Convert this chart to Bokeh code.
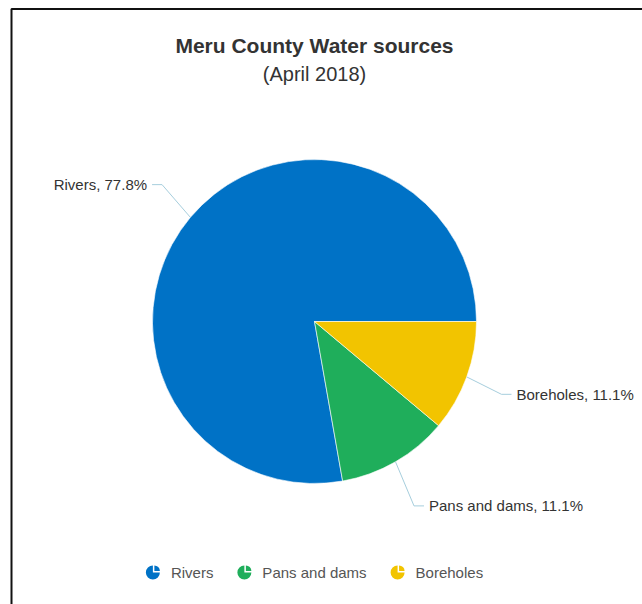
import math
from bokeh.plotting import figure
from bokeh.models import Range1d, BoxAnnotation, ColumnDataSource
from bokeh.core.properties import value
from bokeh.embed import file_html
from bokeh.resources import INLINE

# ---- data ----
title = "Meru County Water sources"
subtitle = "(April 2018)"
categories = ["Rivers", "Pans and dams", "Boreholes"]
counts = [7, 1, 1]
colors = ["#0072c6", "#1fae5b", "#f2c400"]

W, H = 642, 604
FONT = "Liberation Sans"

p = figure(width=W, height=H, output_backend="svg", toolbar_location=None,
           x_range=Range1d(0, W), y_range=Range1d(0, H), min_border=0,
           outline_line_color=None)
p.axis.visible = False
p.grid.visible = False
p.background_fill_color = "white"
p.border_fill_color = "white"

def sy(y):
    return H - y

# frame
p.add_layout(BoxAnnotation(left=11, top=sy(8.5), right=W + 50, bottom=-50,
                           fill_alpha=0, line_color="#111111", line_alpha=1.0,
                           line_width=2))

# titles
p.text(x=[W / 2 - 7], y=[sy(45)], text=[title], text_font=value(FONT),
       text_font_size="21px", text_font_style="bold", text_color="#333333",
       text_align="center", text_baseline="middle")
p.text(x=[W / 2 - 7], y=[sy(73)], text=[subtitle], text_font=value(FONT),
       text_font_size="20px", text_color="#333333",
       text_align="center", text_baseline="middle")

# pie
cx, cy, r = 314, sy(321), 162
total = sum(counts)
starts, ends, mids, pcts = [], [], [], []
a = 0.0
for c in counts:
    s = a
    e = a + 2 * math.pi * c / total
    starts.append(s); ends.append(e); mids.append((s + e) / 2)
    pcts.append(100.0 * c / total)
    a = e

src = ColumnDataSource(dict(start=starts, end=ends, color=colors))
p.wedge(x=cx, y=cy, radius=r, start_angle="start", end_angle="end",
        fill_color="color", line_color="white", line_width=0.6, source=src)

# connectors and data labels
xs, ys = [], []
lx, ly, lt, la = [], [], [], []
for cat, m, pc in zip(categories, mids, pcts):
    ex, ey = cx + r * math.cos(m), cy + r * math.sin(m)
    r2 = r + 37
    bx, by = cx + r2 * math.cos(m), cy + r2 * math.sin(m) * 1.07
    side = 1 if math.cos(m) >= 0 else -1
    hx = bx + side * 10
    xs.append([ex, bx, hx]); ys.append([ey, by, by])
    lx.append(hx + side * 5); ly.append(by)
    lt.append(f"{cat}, {pc:.1f}%")
    la.append("left" if side > 0 else "right")

p.multi_line(xs=xs, ys=ys, line_color="#a6cedd", line_width=1)
p.text(x=lx, y=ly, text=lt, text_align=la, text_baseline="middle",
       text_font=value(FONT), text_font_size="15px", text_color="#333333")

# legend (manual, pie icons)
AW = {'a':556,'b':556,'c':500,'d':556,'e':556,'f':278,'g':556,'h':556,'i':222,
      'j':222,'k':500,'l':222,'m':833,'n':556,'o':556,'p':556,'q':556,'r':333,
      's':500,'t':278,'u':556,'v':500,'w':722,'x':500,'y':500,'z':500,' ':278,
      'R':722,'P':667,'B':667}
fs = 15
def tw(s):
    return sum(AW.get(ch, 556) for ch in s) * fs / 1000.0

icon_to_text, item_gap, icon_half = 18, 31, 7
widths = [tw(c) for c in categories]
total_w = icon_half + sum(icon_to_text + w for w in widths) + item_gap * (len(widths) - 1)
x0 = W / 2 - 7 - total_w / 2 + icon_half
leg_y = sy(572)
ix, tx = [], []
x = x0
for w in widths:
    ix.append(x); tx.append(x + icon_to_text)
    x += icon_to_text + w + item_gap

p.wedge(x=ix, y=[leg_y] * 3, radius=7, start_angle=math.pi / 2, end_angle=2 * math.pi,
        fill_color=colors, line_color=None)
p.wedge(x=[v + 1.5 for v in ix], y=[leg_y + 1.5] * 3, radius=5.5, start_angle=0,
        end_angle=math.pi / 2, fill_color=colors, line_color=None)
p.text(x=tx, y=[leg_y] * 3, text=categories, text_align="left", text_baseline="middle",
       text_font=value(FONT), text_font_size=f"{fs}px", text_color="#555555")

open("out.html", "w").write(file_html(p, INLINE))
